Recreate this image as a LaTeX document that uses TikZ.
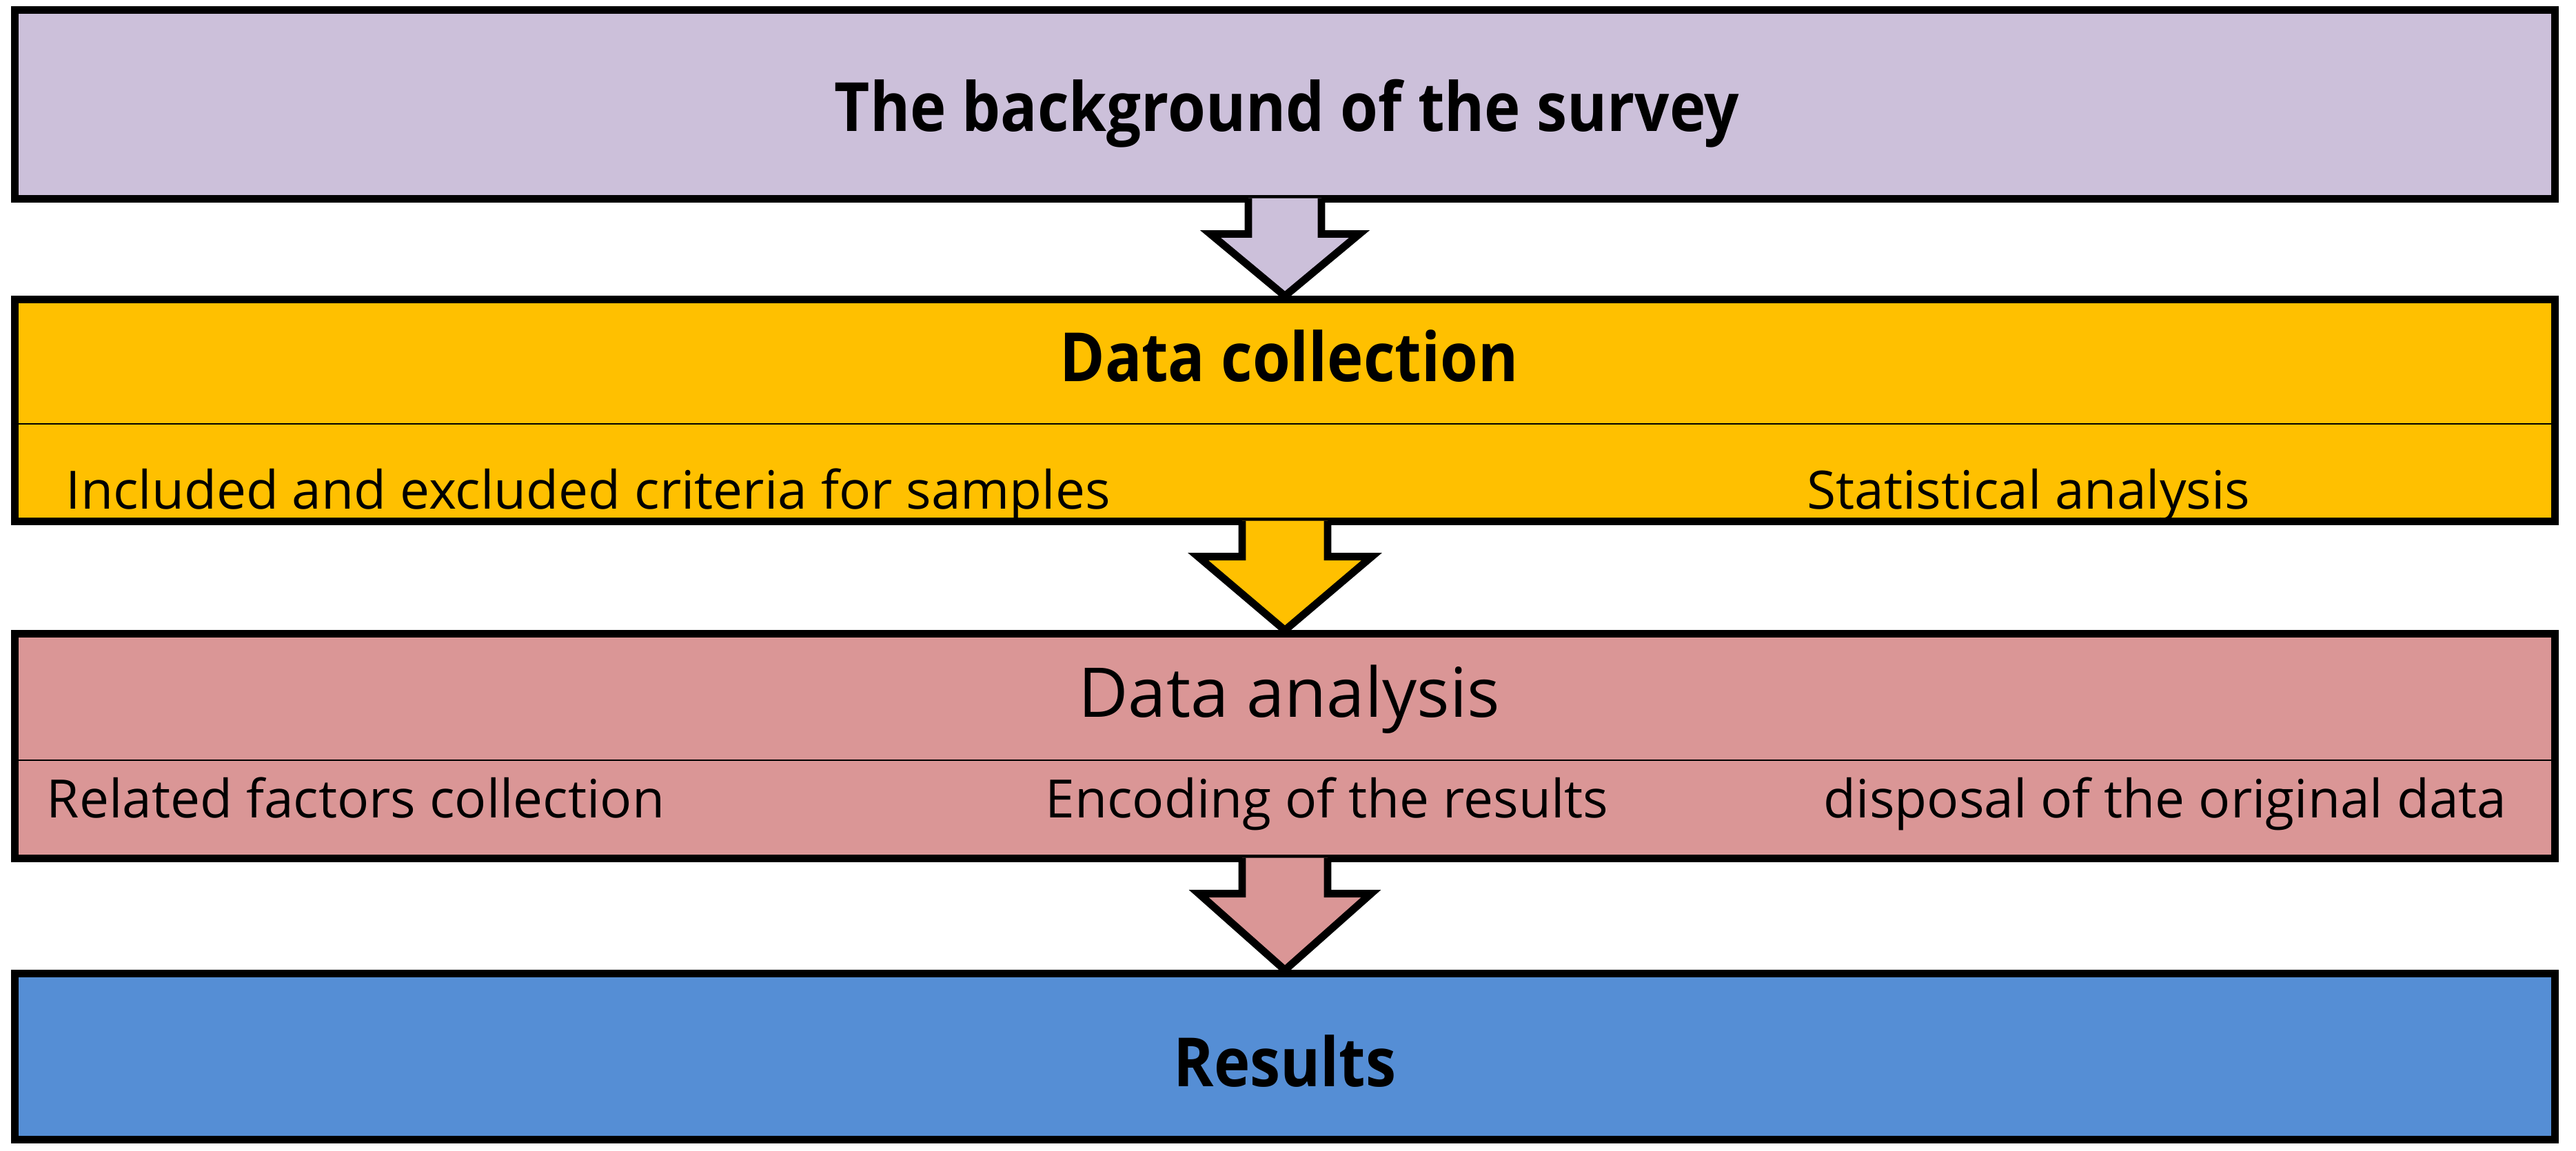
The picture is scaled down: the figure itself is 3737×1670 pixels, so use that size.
\documentclass[tikz,border=0pt]{standalone}
\usepackage{fontspec}
\setmainfont{Open Sans}[BoldFeatures={FakeStretch=0.9}]
\usetikzlibrary{calc}
\definecolor{bgfill}{RGB}{204,192,218}
\definecolor{dcfill}{RGB}{255,192,0}
\definecolor{dafill}{RGB}{218,150,150}
\definecolor{resfill}{RGB}{85,142,213}

\tikzset{
  stage/.style={draw=black, line width=3.1pt, minimum width=36.82cm, inner sep=0pt},
  sepline/.style={draw=black, line width=0.8pt},
  headbold/.style={font=\fontsize{28}{30}\selectfont\bfseries, anchor=base, inner sep=0pt},
  headreg/.style={font=\fontsize{28.3}{30}\selectfont, anchor=base, inner sep=0pt},
  item/.style={font=\fontsize{21.8}{24}\selectfont, anchor=base west, inner sep=0pt},
  flow/.style={draw=black, line width=3.1pt, line join=miter},
}

\begin{document}
\begin{tikzpicture}[x=0.01cm,y=-0.01cm]
\useasboundingbox[fill=white] (0,0) rectangle (3737,1670);
% the four stages, top to bottom
\node[stage, fill=bgfill, minimum height=2.73cm] (bg) at (1864,151.5) {};
\node[stage, fill=dcfill, minimum height=3.21cm] (dc) at (1864,595.5) {};
\node[stage, fill=dafill, minimum height=3.25cm] (da) at (1864,1082.5) {};
\node[stage, fill=resfill, minimum height=2.40cm] (res) at (1864,1533) {};
% thin lines under the stage headings
\coordinate (dcsep) at (0,615);
\coordinate (dasep) at (0,1103);
\draw[sepline] (dc.west |- dcsep) -- (dc.east |- dcsep);
\draw[sepline] (da.west |- dasep) -- (da.east |- dasep);
% block arrows between the stages
\foreach \from/\to/\col/\sw/\hw in {bg/dc/bgfill/53/108, dc/da/dcfill/62/126, da/res/dafill/62/125}{
  \fill[\col] ($(\from.south)+(-\sw,-6)$) -- ($(\from.south)+(-\sw,46)$) -- ($(\from.south)+(-\hw,46)$)
    -- (\to.north) -- ($(\from.south)+(\hw,46)$) -- ($(\from.south)+(\sw,46)$) -- ($(\from.south)+(\sw,-6)$) -- cycle;
  \draw[flow] ($(\from.south)+(-\sw,-6)$) -- ($(\from.south)+(-\sw,46)$) -- ($(\from.south)+(-\hw,46)$)
    -- (\to.north) -- ($(\from.south)+(\hw,46)$) -- ($(\from.south)+(\sw,46)$) -- ($(\from.south)+(\sw,-6)$);
}
% texts
\node[headbold] (bgtxt) at (1867,191) {The background of the survey};
\node[headbold] (dctxt) at (1870,553) {Data collection};
\node[item] (crit) at (95,738) {Included and excluded criteria for samples};
\node[item] (stat) at (2621,738) {Statistical analysis};
\node[headreg] (datxt) at (1870,1040) {Data analysis};
\node[item] (fact) at (67,1186) {Related factors collection};
\node[item] (enc) at (1516,1186) {Encoding of the results};
\node[item] (disp) at (2645,1186) {disposal of the original data};
\node[headbold] (restxt) at (1864,1576) {Results};
\end{tikzpicture}
\end{document}
